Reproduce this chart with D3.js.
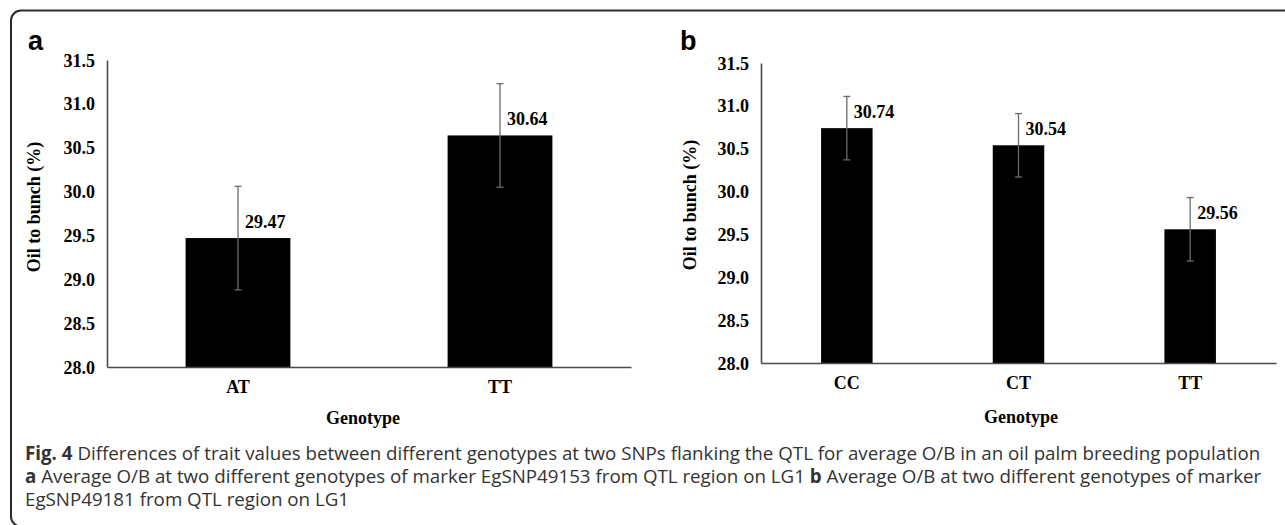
<!DOCTYPE html>
<html>
<head>
<meta charset="utf-8">
<script src="https://cdn.jsdelivr.net/npm/d3@7"></script>
<style>
  body { margin: 0; background: #fff; }
  svg { display: block; }
  .tick text, .val, .cat, .title { font-family: "Liberation Serif", "Times New Roman", serif; font-weight: bold; font-size: 18px; fill: #000; }
  .panel { font-family: "Liberation Sans", Arial, sans-serif; font-weight: bold; font-size: 27px; }
  .caption { font-family: "Open Sans", sans-serif; fill: #333; }
</style>
</head>
<body>
<script>
// panel a: marker EgSNP49153
const genotypesA = ["AT", "TT"];
const meansA = [29.47, 30.64];
const errorsA = [0.59, 0.59];

// panel b: marker EgSNP49181
const genotypesB = ["CC", "CT", "TT"];
const meansB = [30.74, 30.54, 29.56];
const errorsB = [0.37, 0.37, 0.37];

const yTicks = [28.0, 28.5, 29.0, 29.5, 30.0, 30.5, 31.0, 31.5];
const yTitle = "Oil to bunch (%)";
const xTitle = "Genotype";

const captionLines = [
  [["Fig. 4", true], [" Differences of trait values between different genotypes at two SNPs flanking the QTL for average O/B in an oil palm breeding population", false]],
  [["a", true], [" Average O/B at two different genotypes of marker EgSNP49153 from QTL region on LG1 ", false], ["b", true], [" Average O/B at two different genotypes of marker", false]],
  [["EgSNP49181 from QTL region on LG1", false]]
];

let width = 1285, height = 525;

let svg = d3.select("body").append("svg")
            .attr("width", width)
            .attr("height", height);

// rounded frame, runs off the right and bottom edges
svg.append("rect")
   .attr("x", 11).attr("y", 10.5)
   .attr("width", 1400).attr("height", 516)
   .attr("rx", 10)
   .attr("fill", "none")
   .attr("stroke", "#2b2b2b")
   .attr("stroke-width", 2);

function drawPanel(letter, cats, means, errs, box) {
  let x = d3.scaleBand()
            .domain(cats)
            .range([box.left, box.right])
            .paddingInner(box.padIn)
            .paddingOuter(box.padOut);
  let y = d3.scaleLinear()
            .domain([28, 31.5])
            .range([box.bottom, box.top]);

  let g = svg.append("g");

  g.selectAll("rect.bar")
   .data(cats)
   .enter().append("rect")
   .attr("class", "bar")
   .attr("x", d => x(d))
   .attr("width", x.bandwidth())
   .attr("y", (d, i) => y(means[i]))
   .attr("height", (d, i) => y(28) - y(means[i]))
   .attr("fill", "#000");

  // error bars
  let eb = g.selectAll("g.err")
            .data(cats)
            .enter().append("g")
            .attr("class", "err")
            .attr("stroke", "#6b6b6b")
            .attr("stroke-width", 1.3);
  let cx = d => x(d) + x.bandwidth() / 2;
  eb.append("line")
    .attr("x1", cx).attr("x2", cx)
    .attr("y1", (d, i) => y(means[i] + errs[i]))
    .attr("y2", (d, i) => y(means[i] - errs[i]));
  [1, -1].forEach(s => {
    eb.append("line")
      .attr("x1", d => cx(d) - 3.5).attr("x2", d => cx(d) + 3.5)
      .attr("y1", (d, i) => y(means[i] + s * errs[i]))
      .attr("y2", (d, i) => y(means[i] + s * errs[i]));
  });

  g.selectAll("text.val")
   .data(cats)
   .enter().append("text")
   .attr("class", "val")
   .attr("x", d => cx(d) + 7)
   .attr("y", (d, i) => y(means[i]) - 10.5)
   .text((d, i) => means[i].toFixed(2));

  let yAxis = d3.axisLeft(y).tickValues(yTicks).tickSize(0).tickPadding(12)
                .tickFormat(d3.format(".1f"));
  let xAxis = d3.axisBottom(x).tickSize(0).tickPadding(13);

  let ya = g.append("g").attr("transform", "translate(" + box.left + ",0)").call(yAxis);
  let xa = g.append("g").attr("transform", "translate(0," + box.bottom + ")").call(xAxis);
  [ya, xa].forEach(a => {
    a.select(".domain").attr("stroke", "#4a4a4a").attr("stroke-width", 1.6);
    a.attr("font-size", null).attr("font-family", null);
  });
  ya.selectAll(".tick text").attr("dy", "0.34em");
  xa.selectAll(".tick text").attr("dy", "0.71em");

  g.append("text")
   .attr("class", "title")
   .attr("text-anchor", "middle")
   .attr("transform", "translate(" + box.yTitleX + "," + box.yTitleY + ") rotate(-90)")
   .text(yTitle);

  g.append("text")
   .attr("class", "title")
   .attr("text-anchor", "middle")
   .attr("x", box.xTitleX)
   .attr("y", box.xTitleY)
   .text(xTitle);

  g.append("text")
   .attr("class", "panel")
   .attr("x", box.letterX)
   .attr("y", 50)
   .text(letter);
}

drawPanel("a", genotypesA, meansA, errorsA,
  { left: 107, right: 631, top: 60, bottom: 367, padIn: 0.6, padOut: 0.3,
    yTitleX: 40, yTitleY: 207, xTitleX: 363, xTitleY: 424, letterX: 28 });

drawPanel("b", genotypesB, meansB, errorsB,
  { left: 761, right: 1276, top: 63, bottom: 363, padIn: 0.7, padOut: 0.35,
    yTitleX: 696, yTitleY: 205, xTitleX: 1021, xTitleY: 423, letterX: 680 });

// caption
let cap = svg.append("g").attr("class", "caption");
let lines = captionLines.map((parts, i) => {
  let t = cap.append("text")
             .attr("x", 25)
             .attr("y", 460 + i * 23)
             .attr("font-size", 17);
  parts.forEach(p => {
    t.append("tspan")
     .attr("font-weight", p[1] ? 700 : 400)
     .text(p[0]);
  });
  return t;
});
// fit first line to the width seen in the figure
let len = lines[0].node().getComputedTextLength();
let fs = 17 * 1236 / len;
lines.forEach(t => t.attr("font-size", fs));
</script>
</body>
</html>
